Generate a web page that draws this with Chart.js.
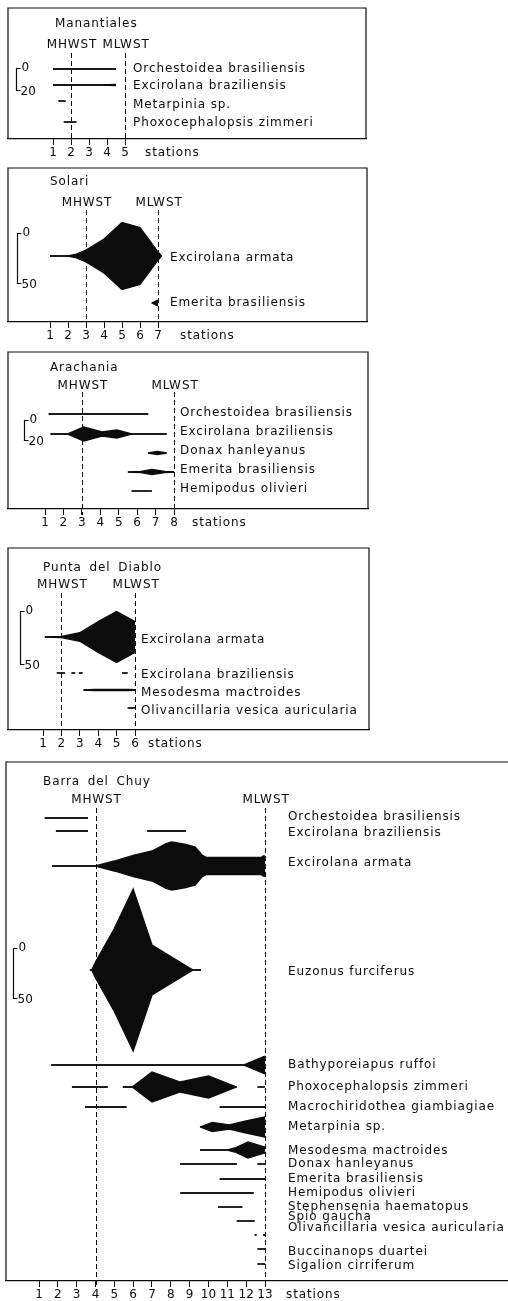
<!DOCTYPE html>
<html>
<head>
<meta charset="utf-8">
<script src="https://cdn.jsdelivr.net/npm/chart.js@4.4.1/dist/chart.umd.min.js"></script>
<style>
  html, body { margin: 0; padding: 0; background: #fff; }
  body { position: relative; width: 508px; height: 1301px; overflow: hidden; }
  canvas { position: absolute; left: 0; }
</style>
</head>
<body>
<canvas id="manantiales"></canvas>
<canvas id="solari"></canvas>
<canvas id="arachania"></canvas>
<canvas id="puntaDiablo"></canvas>
<canvas id="barraChuy"></canvas>
<script>
// Kite diagrams: density of each species along the beach transect (stations),
// full kite width = density, with the MHWST / MLWST levels marked.
// Each series is a list of segments, each segment a list of [station, density].

// ---------- Manantiales ----------
const manStations = [1, 2, 3, 4, 5];
const manTide = [2, 5];
const manSpecies = ['Orchestoidea brasiliensis', 'Excirolana braziliensis', 'Metarpinia sp.', 'Phoxocephalopsis zimmeri'];
const manDensity = [
  [[[1, 0], [4.5, 0]]],
  [[[1, 0], [3.6, 0], [4.5, 1]]],
  [[[1.3, 0], [1.7, 0]]],
  [[[1.6, 0], [2.3, 0]]]
];

// ---------- Solari ----------
const solStations = [1, 2, 3, 4, 5, 6, 7];
const solTide = [3, 7];
const solSpecies = ['Excirolana armata', 'Emerita brasiliensis'];
const solDensity = [
  [[[1, 0], [2, 0], [2.4, 3], [3, 12], [4, 34], [5, 67], [6, 57], [7, 8], [7.2, 0]]],
  [[[6.65, 0], [7, 6]]]
];

// ---------- Arachania ----------
const araStations = [1, 2, 3, 4, 5, 6, 7, 8];
const araTide = [3, 8];
const araSpecies = ['Orchestoidea brasiliensis', 'Excirolana braziliensis', 'Donax hanleyanus', 'Emerita brasiliensis', 'Hemipodus olivieri'];
const araDensity = [
  [[[1.2, 0], [6.6, 0]]],
  [[[1.3, 0], [2.2, 0], [3.1, 14], [4.1, 4], [4.9, 8], [5.7, 0], [7.6, 0]]],
  [[[6.6, 0], [7.1, 3], [7.6, 0]]],
  [[[5.5, 0], [6.2, 1], [6.8, 5], [7.5, 1], [8, 0]]],
  [[[5.7, 0], [6.8, 0]]]
];

// ---------- Punta del Diablo ----------
const pdStations = [1, 2, 3, 4, 5, 6];
const pdTide = [2, 6];
const pdSpecies = ['Excirolana armata', 'Excirolana braziliensis', 'Mesodesma mactroides', 'Olivancillaria vesica auricularia'];
const pdDensity = [
  [[[1.1, 0], [2, 1], [3, 8], [4, 29], [5, 48], [6, 29]]],
  [[[1.75, 0], [2.2, 0]], [[2.55, 0], [2.75, 0]], [[2.95, 0], [3.15, 0]], [[5.3, 0], [5.6, 0]]],
  [[[3.2, 0], [3.8, 1], [5.6, 1], [6, 0.5]]],
  [[[5.6, 0], [6, 0]]]
];

// ---------- Barra del Chuy ----------
const bcStations = [1, 2, 3, 4, 5, 6, 7, 8, 9, 10, 11, 12, 13];
const bcTide = [4, 13];
const bcSpecies = [
  'Orchestoidea brasiliensis', 'Excirolana braziliensis', 'Excirolana armata', 'Euzonus furciferus',
  'Bathyporeiapus ruffoi', 'Phoxocephalopsis zimmeri', 'Macrochiridothea giambiagiae', 'Metarpinia sp.',
  'Mesodesma mactroides', 'Donax hanleyanus', 'Emerita brasiliensis', 'Hemipodus olivieri',
  'Stephensenia haematopus', 'Spio gaucha', 'Olivancillaria vesica auricularia', 'Buccinanops duartei',
  'Sigalion cirriferum'
];
const bcDensity = [
  [[[1.3, 0], [3.6, 0]]],
  [[[1.9, 0], [3.6, 0]], [[6.75, 0], [8.8, 0]]],
  [[[1.7, 0], [4, 0], [5, 10], [6, 21], [7, 30], [7.75, 45], [8.05, 48], [8.8, 43], [9.3, 38], [9.65, 22], [9.9, 17], [12.8, 17], [12.9, 20], [13, 20]]],
  [[[3.7, 0], [3.8, 0], [4, 16], [5, 83], [6, 162], [7, 50], [8, 27], [9, 4], [9.2, 0], [9.6, 0]]],
  [[[1.65, 0], [11.85, 0], [13, 18]]],
  [[[2.75, 0], [4.65, 0]], [[5.45, 0], [5.95, 0], [7, 30], [8.5, 10], [10, 22], [11.5, 0]], [[12.6, 0], [13, 0]]],
  [[[3.45, 0], [5.65, 0]], [[10.6, 0], [13, 0]]],
  [[[9.55, 0], [10.2, 9], [11.1, 4], [12, 12], [13, 20]]],
  [[[9.55, 0], [11, 0], [11.4, 4], [12.1, 16], [13, 6]]],
  [[[8.5, 0], [11.5, 0]], [[12.6, 0], [13, 0]]],
  [[[10.6, 0], [13, 0]]],
  [[[8.5, 0], [12.4, 0]]],
  [[[10.5, 0], [11.8, 0]]],
  [[[11.5, 0], [12.45, 0]]],
  [[[12.45, 0], [12.55, 0]], [[12.9, 0], [13, 0]]],
  [[[12.6, 0], [13, 0]]],
  [[[12.6, 0], [13, 0]]]
];

// ---------- page layout of each panel (px) ----------
const manLayout = {
  id: 'manantiales', box: { left: 8, top: 8, right: 366, bottom: 139 }, openRight: false, ppu: 1.1,
  tickX: [53, 125], stationsX: 145, title: { text: 'Manantiales', x: 55, y: 24 },
  tideY: 45, dashTop: 53, labelX: 133,
  rows: [69, 85, 101, 122], labelRows: [69, 86, 105, 123],
  bar: { x: 16, top: 68, max: 20 }
};
const solLayout = {
  id: 'solari', box: { left: 8, top: 168, right: 367, bottom: 322 }, openRight: false, ppu: 1,
  tickX: [50, 158], stationsX: 180, title: { text: 'Solari', x: 50, y: 182 },
  tideY: 203, dashTop: 210, labelX: 170,
  rows: [256, 303], labelRows: [258, 303],
  bar: { x: 17, top: 233, max: 50 }
};
const araLayout = {
  id: 'arachania', box: { left: 8, top: 352, right: 368, bottom: 509 }, openRight: false, ppu: 1,
  tickX: [45, 174], stationsX: 192, title: { text: 'Arachania', x: 50, y: 368 },
  tideY: 386, dashTop: 392, labelX: 180,
  rows: [414, 434, 453, 472, 491], labelRows: [413, 432, 451, 470, 489],
  bar: { x: 24, top: 420, max: 20 }
};
const pdLayout = {
  id: 'puntaDiablo', box: { left: 8, top: 548, right: 369, bottom: 730 }, openRight: false, ppu: 1.06,
  tickX: [43, 135], stationsX: 148, title: { text: 'Punta del Diablo', x: 43, y: 568 },
  tideY: 585, dashTop: 593, labelX: 141,
  rows: [637, 673, 690, 708], labelRows: [640, 675, 693, 711],
  bar: { x: 20, top: 611, max: 50 }
};
const bcLayout = {
  id: 'barraChuy', box: { left: 6, top: 762, right: 508, bottom: 1281 }, openRight: true, ppu: 1,
  tickX: [39, 265], stationsX: 286, title: { text: 'Barra del Chuy', x: 43, y: 782 },
  tideY: 800, dashTop: 808, labelX: 288,
  rows: [818, 831, 866, 970, 1065, 1087, 1107, 1127, 1150, 1164, 1179, 1193, 1207, 1221, 1235, 1249, 1264],
  labelRows: [817, 833, 863, 972, 1065, 1087, 1107, 1127, 1151, 1164, 1179, 1193, 1207, 1217, 1228, 1252, 1266],
  bar: { x: 13, top: 948, max: 50 }
};

const FONT = '"DejaVu Sans", "Liberation Sans", sans-serif';
const INK = '#0c0c0c';
const PAD_TOP = 6;
const AXIS_H = 26;
const TEXT_SIZE = 12;

Chart.defaults.font.family = FONT;
Chart.defaults.color = INK;

function decorPlugin(L, tide, species) {
  return {
    id: 'panelDecor',
    afterDatasetsDraw(chart) {
      const ctx = chart.ctx;
      const ca = chart.chartArea;
      const xs = chart.scales.x;
      const ys = chart.scales.y;
      const off = L.box.top - PAD_TOP;
      ctx.save();

      // frame (bottom edge is the station axis)
      ctx.strokeStyle = INK;
      ctx.lineWidth = 1.2;
      ctx.beginPath();
      ctx.moveTo(ca.left, ca.bottom);
      ctx.lineTo(ca.left, ca.top);
      ctx.lineTo(ca.right, ca.top);
      if (!L.openRight) ctx.lineTo(ca.right, ca.bottom);
      ctx.stroke();

      // tide levels
      ctx.lineWidth = 1;
      ctx.setLineDash([5, 3]);
      tide.forEach(s => {
        const x = Math.round(xs.getPixelForValue(s)) + 0.5;
        ctx.beginPath();
        ctx.moveTo(x, L.dashTop - off);
        ctx.lineTo(x, ca.bottom + 6);
        ctx.stroke();
      });
      ctx.setLineDash([]);

      ctx.fillStyle = INK;
      ctx.textBaseline = 'middle';
      ctx.font = TEXT_SIZE + 'px ' + FONT;
      ctx.letterSpacing = '0.9px';

      // title
      ctx.textAlign = 'left';
      ctx.wordSpacing = '3px';
      ctx.fillText(L.title.text, L.title.x, L.title.y - off);
      ctx.wordSpacing = '0px';

      // tide labels
      ctx.textAlign = 'center';
      ['MHWST', 'MLWST'].forEach((t, i) => {
        ctx.fillText(t, xs.getPixelForValue(tide[i]) + 1, L.tideY - off);
      });

      // species names
      ctx.textAlign = 'left';
      species.forEach((name, i) => {
        ctx.fillText(name, L.labelX, L.labelRows[i] - off);
      });

      // stations caption
      ctx.fillText('stations', L.stationsX, ca.bottom + 14);

      // density scale bar
      const v0 = ys.getValueForPixel(L.bar.top - off);
      const yTop = Math.round(ys.getPixelForValue(v0)) + 0.5;
      const yBot = Math.round(ys.getPixelForValue(v0 + L.bar.max)) + 0.5;
      const bx = L.bar.x + 0.5;
      ctx.lineWidth = 1.2;
      ctx.beginPath();
      ctx.moveTo(bx + 4, yTop);
      ctx.lineTo(bx, yTop);
      ctx.lineTo(bx, yBot);
      ctx.lineTo(bx + 4, yBot);
      ctx.stroke();
      ctx.textAlign = 'left';
      ctx.letterSpacing = '0px';
      ctx.fillText('0', bx + 5, yTop - 1);
      ctx.fillText(String(L.bar.max), bx + 4, yBot + 1);
      ctx.restore();
    }
  };
}

function buildPanel(L, stations, tide, species, density) {
  const canvas = document.getElementById(L.id);
  const boxH = L.box.bottom - L.box.top;
  canvas.width = 508;
  canvas.height = PAD_TOP + boxH + AXIS_H;
  canvas.style.top = (L.box.top - PAD_TOP) + 'px';

  const n = stations.length;
  const dx = (L.tickX[1] - L.tickX[0]) / (stations[n - 1] - stations[0]);
  const xMin = stations[0] - (L.tickX[0] - L.box.left) / dx;
  const xMax = stations[0] + (L.box.right - L.tickX[0]) / dx;

  const line = { borderColor: INK, borderWidth: 1.3, pointRadius: 0, pointHoverRadius: 0, tension: 0 };
  const datasets = [];
  species.forEach((name, i) => {
    const c = (L.rows[i] - L.box.top) / L.ppu;
    density[i].forEach(seg => {
      datasets.push(Object.assign({ label: name, fill: false,
        data: seg.map(([s, v]) => ({ x: s, y: c - v / 2 })) }, line));
      datasets.push(Object.assign({ label: name, fill: '-1', backgroundColor: INK,
        data: seg.map(([s, v]) => ({ x: s, y: c + v / 2 })) }, line));
    });
  });

  return new Chart(canvas, {
    type: 'line',
    data: { datasets },
    options: {
      responsive: false,
      animation: false,
      devicePixelRatio: 1,
      layout: { padding: { left: L.box.left, right: 508 - L.box.right, top: PAD_TOP, bottom: 0 } },
      plugins: { legend: { display: false }, tooltip: { enabled: false } },
      events: [],
      scales: {
        x: {
          type: 'linear', min: xMin, max: xMax, position: 'bottom',
          afterBuildTicks: axis => { axis.ticks = stations.map(v => ({ value: v })); },
          afterFit: axis => { axis.height = AXIS_H; },
          ticks: { autoSkip: false, maxRotation: 0, padding: 1, color: INK,
                   font: { size: TEXT_SIZE }, callback: v => String(v) },
          grid: { display: true, drawOnChartArea: false, drawTicks: true, tickLength: 6,
                  color: INK, lineWidth: 1 },
          border: { display: true, color: INK, width: 1.2 }
        },
        y: {
          type: 'linear', display: false, reverse: true,
          min: 0, max: boxH / L.ppu
        }
      }
    },
    plugins: [decorPlugin(L, tide, species)]
  });
}

buildPanel(manLayout, manStations, manTide, manSpecies, manDensity);
buildPanel(solLayout, solStations, solTide, solSpecies, solDensity);
buildPanel(araLayout, araStations, araTide, araSpecies, araDensity);
buildPanel(pdLayout, pdStations, pdTide, pdSpecies, pdDensity);
buildPanel(bcLayout, bcStations, bcTide, bcSpecies, bcDensity);
</script>
</body>
</html>
